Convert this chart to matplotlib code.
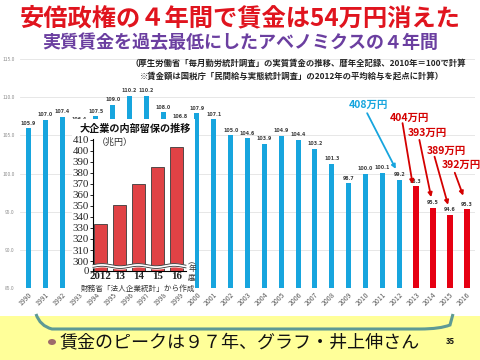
import numpy as np
import matplotlib
matplotlib.use("Agg")
import matplotlib.pyplot as plt
from matplotlib.patches import Rectangle, Circle, PathPatch
from matplotlib.path import Path

plt.rcParams['font.family'] = ['Noto Sans CJK JP', 'DejaVu Sans']

# ---- data ----
years = [str(y) for y in range(1990, 2017)]
wages = [105.9, 107.0, 107.4, 106.4, 107.5, 109.0, 110.2, 110.2, 108.0, 106.8,
         107.9, 107.1, 105.0, 104.6, 103.9, 104.9, 104.4, 103.2, 101.3, 98.7,
         100.0, 100.1, 99.2, 98.3, 95.5, 94.6, 95.3]
abe_start = 2013
yticks_main = [85, 90, 95, 100, 105, 110, 115]

annot_labels = ['408万円', '404万円', '393万円', '389万円', '392万円']
annot_years = ['2012', '2013', '2014', '2015', '2016']

inset_years = ['2012', '13', '14', '15', '16']
inset_values = [333.5, 351.0, 370.0, 385.5, 403.5]
inset_ticks = [300, 310, 320, 330, 340, 350, 360, 370, 380, 390, 400, 410]

W, H = 480, 360
fig = plt.figure(figsize=(4.8, 3.6), dpi=100)
fig.patch.set_facecolor('white')

def fx(px):
    return px / W

def fy(py):
    return 1 - py / H

BLUE = '#17A5DE'
RED = '#E60012'

# ---- main axes ----
ax = fig.add_axes([fx(20), fy(288), fx(475) - fx(20), fy(59) - fy(288)])
ax.set_zorder(0)
idx = np.arange(len(years))
colors = [RED if int(y) >= abe_start else BLUE for y in years]
widths = [0.36 if int(y) >= abe_start else 0.3 for y in years]
ax.bar(idx, wages, width=widths, color=colors, zorder=2)
ax.set_ylim(85, 115)
ax.set_xlim(-0.5, len(years) - 0.5)
ax.set_yticks(yticks_main)
ax.set_yticklabels([f'{v:.1f}' for v in yticks_main], fontsize=3.5, color='#8c8c8c')
ax.set_xticks(idx)
ax.set_xticklabels(years, rotation=45, ha='right', rotation_mode='anchor',
                   fontsize=5, color='#595959')
ax.tick_params(length=0, pad=2)
ax.tick_params(axis='y', pad=4)
ax.grid(axis='y', color='#e3e3e3', lw=0.6, zorder=0)
for s in ax.spines.values():
    s.set_visible(False)
for i, v in enumerate(wages):
    ax.text(i, v + 0.35, f'{v:.1f}', ha='center', va='bottom', fontsize=3.4,
            fontweight='bold', color='#404040', family='DejaVu Sans')

# annotations (text position, arrow start, arrow end in data coords)
ann_geom = [
    ((20.2, 109.0), (20.1, 107.9), (21.8, 100.6), 'center'),
    ((22.6, 107.3), (22.2, 106.6), (22.8, 98.6), 'center'),
    ((23.7, 105.3), (23.2, 104.4), (23.9, 96.9), 'center'),
    ((24.8, 102.9), (24.1, 102.2), (24.9, 95.9), 'center'),
    ((24.5, 101.1), (25.3, 100.1), (25.8, 97.1), 'left'),
]
for lab, yr, (tp, sp, ep, ha) in zip(annot_labels, annot_years, ann_geom):
    c = BLUE if int(yr) < abe_start else '#D40000'
    ax.text(tp[0], tp[1], lab, ha=ha, va='center', fontsize=7.5,
            fontweight='bold', color=c, zorder=5, clip_on=False)
    ax.annotate('', xy=ep, xytext=sp,
                arrowprops=dict(arrowstyle='-|>', color=c, lw=1.3,
                                mutation_scale=6, shrinkA=0, shrinkB=0),
                zorder=5, annotation_clip=False)

# ---- titles and notes ----
fig.text(0.5, fy(18), '安倍政権の４年間で賃金は54万円消えた', ha='center', va='center',
         fontsize=17.5, fontweight='bold', color='#E0141E')
fig.text(0.5, fy(42), '実質賃金を過去最低にしたアベノミクスの４年間', ha='center', va='center',
         fontsize=13, fontweight='bold', color='#6B3FA0')
fig.text(fx(130), fy(63), '（厚生労働省「毎月勤労統計調査」の実質賃金の推移、暦年全記録、2010年＝100で計算',
         ha='left', va='center', fontsize=6, fontweight='bold', color='#222222')
fig.text(fx(140), fy(76), '※賃金額は国税庁「民間給与実態統計調査」の2012年の平均給与を起点に計算）',
         ha='left', va='center', fontsize=6, fontweight='bold', color='#222222')

# ---- inset box ----
fig.patches.append(Rectangle((fx(72), fy(294)), fx(195) - fx(72), fy(119) - fy(294),
                             transform=fig.transFigure, facecolor='white',
                             edgecolor='none', zorder=1))

axi = fig.add_axes([fx(93), fy(271), fx(186) - fx(93), fy(139) - fy(271)])
axi.set_zorder(2)
axi.patch.set_alpha(0)
base = 291
ii = np.arange(len(inset_years))
axi.bar(ii, [v - base for v in inset_values], bottom=base, width=0.72,
        color='#E04245', edgecolor='#3a3a3a', linewidth=0.6, zorder=2)
axi.set_ylim(base, 410.5)
axi.set_xlim(-0.4, 4.5)
axi.set_yticks([base] + inset_ticks)
axi.set_yticklabels(['0'] + [str(t) for t in inset_ticks], fontsize=7.8,
                    family='Liberation Serif', color='#222222')
axi.set_xticks(ii)
axi.set_xticklabels(inset_years, fontsize=7.8, family='Liberation Serif',
                    fontweight='bold', color='#222222')
axi.tick_params(axis='y', length=2, width=0.6, pad=1)
axi.tick_params(axis='x', length=0, pad=1)
axi.spines['top'].set_visible(False)
axi.spines['right'].set_visible(False)
axi.spines['left'].set_linewidth(0.8)
axi.spines['bottom'].set_linewidth(0.8)
# axis break wave
xw = np.linspace(-0.4, 4.5, 200)
yw = 295.5 + 1.0 * np.sin(2 * np.pi * (xw + 0.4) / 1.9)
axi.fill_between(xw, yw - 1.2, yw + 1.2, color='white', zorder=3, clip_on=False)
axi.plot(xw, yw - 1.2, color='#333333', lw=0.6, zorder=4, clip_on=False)
axi.plot(xw, yw + 1.2, color='#333333', lw=0.6, zorder=4, clip_on=False)

fig.text(fx(135), fy(129), '大企業の内部留保の推移', ha='center', va='center',
         fontsize=7.3, fontweight='bold', color='#111111', zorder=4)
fig.text(fx(97), fy(142), '（兆円）', ha='left', va='center', fontsize=6.5,
         color='#333333', zorder=4)
fig.text(fx(138), fy(289), '財務省「法人企業統計」から作成', ha='center', va='center',
         fontsize=5.5, color='#333333', zorder=4)
fig.text(fx(192), fy(273), '︵\n年\n度\n︶', ha='center', va='center',
         fontsize=5.5, color='#333333', linespacing=0.85, zorder=4)

# ---- bottom band ----
fig.patches.append(Rectangle((0, 0), 1, fy(316), transform=fig.transFigure,
                             facecolor='#FFFF99', edgecolor='none', zorder=1))
verts = [(36, 314), (40, 326), (52, 329), (70, 329), (420, 329), (440, 329), (450, 325), (453, 314)]
verts_f = [(fx(x), fy(y)) for x, y in verts]
codes = [Path.MOVETO, Path.CURVE3, Path.CURVE3, Path.LINETO, Path.LINETO,
         Path.CURVE3, Path.CURVE3, Path.LINETO]
fig.patches.append(PathPatch(Path(verts_f, codes), transform=fig.transFigure,
                             facecolor='none', edgecolor='#5E9A95', lw=2.2, zorder=2))
fig.patches.append(Circle((fx(52), fy(342)), 4 / W, transform=fig.transFigure,
                          facecolor='#9E6B6B', edgecolor='none', zorder=3))
fig.text(fx(60), fy(342), '賃金のピークは９７年、グラフ・井上伸さん', ha='left', va='center',
         fontsize=13, color='#111111', zorder=4)
fig.text(fx(450), fy(342), '35', ha='center', va='center', fontsize=5.5,
         fontweight='bold', color='#111111', zorder=4)

fig.savefig('out.png', dpi=100)
